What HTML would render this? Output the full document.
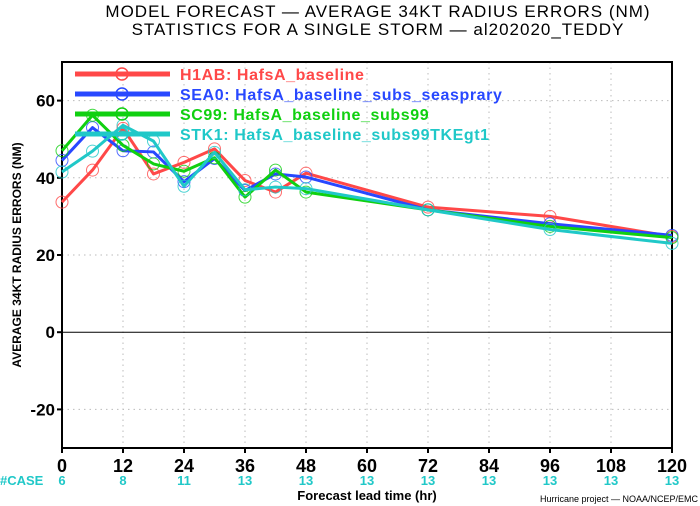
<!DOCTYPE html>
<html><head><meta charset="utf-8"><style>
body{margin:0;background:#fff;}
svg{display:block;font-family:"Liberation Sans",sans-serif;}
</style></head><body>
<svg id="chart" width="700" height="506" viewBox="0 0 700 506">
<text x="378" y="17" text-anchor="middle" font-size="17" letter-spacing="1">MODEL FORECAST — AVERAGE 34KT RADIUS ERRORS (NM)</text>
<text x="378" y="35" text-anchor="middle" font-size="17" letter-spacing="1">STATISTICS FOR A SINGLE STORM — al202020_TEDDY</text>
<g id="grid"></g>
<g id="axes"></g>
<g id="series"></g>
<g id="legend"></g>
<text transform="translate(21,255) rotate(-90)" text-anchor="middle" font-size="12" font-weight="bold">AVERAGE 34KT RADIUS ERRORS (NM)</text>
<text x="367" y="500" text-anchor="middle" font-size="13" font-weight="bold">Forecast lead time (hr)</text>
<text x="698" y="502" text-anchor="end" font-size="9">Hurricane project — NOAA/NCEP/EMC</text>
<text x="0" y="485" font-size="13" font-weight="bold" fill="#20c8c8">#CASE</text>
</svg>
<script>
const hours=[0,6,12,18,24,30,36,42,48,72,96,120];
const h1ab=[33.7,42,52.8,41,44,47.5,39.3,36.3,41.2,32.4,30,24.8];
const sea0=[44.5,53,47,46.7,39,45,36.7,41,40.2,31.7,28.1,25.1];
const sc99=[47,56.2,48.4,43.6,41.7,45.2,35,42,36.3,31.7,27.4,24.5];
const stk1=[41.5,46.9,53.6,49.5,37.8,46.6,36.9,37.6,37.2,31.7,26.6,23];
const xTicks=[0,12,24,36,48,60,72,84,96,108,120];
const caseCounts=[6,8,11,13,13,13,13,13,13,13,13];
const yTicks=[-20,0,20,40,60];
const seriesNames=["H1AB: HafsA_baseline","SEA0: HafsA_baseline_subs_seasprary","SC99: HafsA_baseline_subs99","STK1: HafsA_baseline_subs99TKEgt1"];
const colors=["#ff4848","#2848ff","#10d010","#20c8c8"];
const X0=62,X1=672,Y0=448,Y1=62,xmin=0,xmax=120,ymin=-30,ymax=70;
const sx=v=>X0+(v-xmin)/(xmax-xmin)*(X1-X0);
const sy=v=>Y0-(v-ymin)/(ymax-ymin)*(Y0-Y1);
const NS="http://www.w3.org/2000/svg";
function mk(p,t,a){const e=document.createElementNS(NS,t);for(const k in a)e.setAttribute(k,a[k]);p.appendChild(e);return e;}
const grid=document.getElementById('grid'),axes=document.getElementById('axes'),ser=document.getElementById('series'),leg=document.getElementById('legend');
xTicks.forEach((t,i)=>{
 if(t>0&&t<120){const g=mk(grid,'line',{x1:sx(t),x2:sx(t),y1:Y1,y2:Y0,stroke:'#bbb','stroke-dasharray':'1.5,4'});
 
 }
 const tk=mk(axes,'line',{x1:sx(t),x2:sx(t),y1:Y0,y2:Y0+5,stroke:'#000','stroke-width':2});
 
 
 const l=mk(axes,'text',{x:sx(t),y:Y0+24,'text-anchor':'middle','font-size':18,'font-weight':'bold'});l.textContent=t;
 
 
 const c=mk(axes,'text',{x:sx(t),y:485,'text-anchor':'middle','font-size':13,'font-weight':'bold',fill:'#20c8c8'});c.textContent=caseCounts[i];
 
 
});
yTicks.forEach(t=>{
 const g=mk(grid,'line',{x1:X0,x2:X1,y1:sy(t),y2:sy(t),stroke:t===0?'#000':'#bbb','stroke-dasharray':t===0?'':'1.5,4','stroke-width':1});
 
 
 const tk=mk(axes,'line',{x1:X0-5,x2:X0,y1:sy(t),y2:sy(t),stroke:'#000','stroke-width':2});
 
 
 const l=mk(axes,'text',{x:X0-7,y:sy(t)+6,'text-anchor':'end','font-size':17,'font-weight':'bold'});l.textContent=t;
 
 
});
const fr=mk(axes,'rect',{x:X0,y:Y1,width:X1-X0,height:Y0-Y1,fill:'none',stroke:'#000','stroke-width':2});


[h1ab,sea0,sc99,stk1].forEach((d,si)=>{
 const pl=mk(ser,'polyline',{points:d.map((v,i)=>sx(hours[i])+','+sy(v)).join(' '),fill:'none',stroke:colors[si],'stroke-width':3,'stroke-linejoin':'round'});
 
 
 d.forEach((v,i)=>{const c=mk(ser,'circle',{cx:sx(hours[i]),cy:sy(v),r:6,fill:'none',stroke:colors[si],'stroke-width':1,opacity:0.8});
 
 });
});
seriesNames.forEach((n,i)=>{
 const y=74+i*20;
 const l=mk(leg,'line',{x1:75,x2:170,y1:y,y2:y,stroke:colors[i],'stroke-width':5});
 
 
 const c=mk(leg,'circle',{cx:122,cy:y,r:6,fill:'none',stroke:colors[i],'stroke-width':1.5});
 
 
 const t=mk(leg,'text',{x:180,y:y+6,'font-size':16,'font-weight':'bold','letter-spacing':0.6,fill:colors[i]});t.textContent=n;
 
 
});
</script>
</body></html>
